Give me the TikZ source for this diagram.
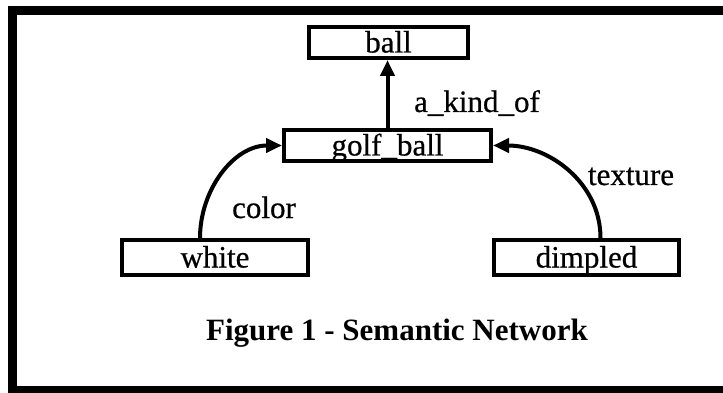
\documentclass[tikz,border=0pt]{standalone}
\usepackage{fontspec}
\setmainfont{Liberation Serif}
\newfontfamily\scanfont{Liberation Serif}[FakeBold=0.6]
\usetikzlibrary{arrows.meta, positioning}

\tikzset{
  netbox/.style={draw, line width=4pt, inner sep=0pt, text height=24pt, text depth=4pt,
    font=\fontsize{31}{34}\scanfont},
  netlabel/.style={inner sep=0pt, anchor=base, font=\fontsize{31}{34}\scanfont},
  netlink/.style={line width=4pt, -{Triangle[length=16pt,width=14pt]}},
}

\begin{document}
\begin{tikzpicture}[x=1pt, y=-1pt]
  \useasboundingbox (0,0) rectangle (723,393);

  % Frame (open at the right)
  \draw[line width=9pt] (730,10.5) -- (12,10.5) -- (12,390.5) -- (730,390.5);

  % Concept boxes
  \node[netbox, minimum width=159pt, minimum height=31pt] (ball) at (388.5,42.5) {ball};
  \node[netbox, minimum width=207pt, minimum height=31pt] (golf) at (387.5,145.5) {golf\_ball};
  \node[netbox, minimum width=186pt, minimum height=35pt] (white) at (215,257.5) {white};
  \node[netbox, minimum width=185pt, minimum height=35pt] (dimpled) at (586.5,257.5) {dimpled};

  % Links
  \draw[netlink] (golf.north) -- (golf.north |- ball.south);
  \draw[netlink] ([xshift=-15pt]white.north) to[out=90, in=180] (golf.west);
  \draw[netlink] ([xshift=14pt]dimpled.north) to[out=90, in=0] (golf.east);

  % Link labels
  \node[netlabel] (kindof) at (477,112) {a\_kind\_of};
  \node[netlabel] (color) at (264,218) {color};
  \node[netlabel] (texture) at (631,185) {texture};

  % Caption
  \node[netlabel, font=\fontsize{31}{34}\selectfont\bfseries] (caption) at (397,340) {Figure 1 - Semantic Network};
\end{tikzpicture}
\end{document}
